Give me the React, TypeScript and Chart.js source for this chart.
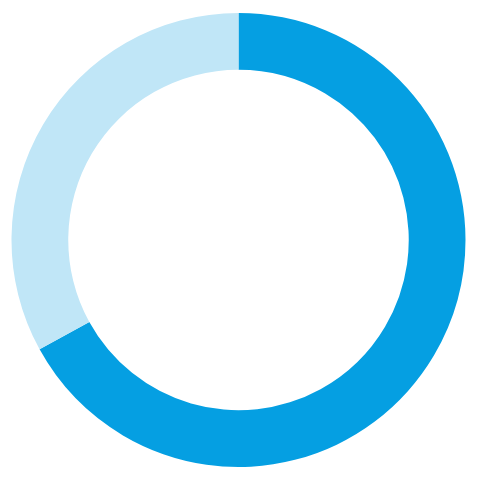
import React, { useEffect, useRef } from "react";
import { Chart, registerables } from "chart.js";

Chart.register(...registerables);

const labels = ["A", "B"];
const values = [67, 33];
const colors = ["#059FE2", "#C0E6F7"];

export default function App() {
  const ref = useRef<HTMLCanvasElement | null>(null);
  useEffect(() => {
    if (!ref.current) return;
    const chart = new Chart(ref.current, {
      type: "doughnut",
      data: {
        labels,
        datasets: [
          {
            data: values,
            backgroundColor: colors,
            borderWidth: 0,
          },
        ],
      },
      options: {
        animation: false,
        responsive: true,
        maintainAspectRatio: false,
        cutout: "75%",
        layout: { padding: 3.5 },
        plugins: {
          legend: { display: false },
          tooltip: { enabled: false },
        },
      },
    });
    return () => chart.destroy();
  }, []);
  return (
    <div style={{ width: 461, height: 464, position: "relative" }}>
      <canvas ref={ref} />
    </div>
  );
}
